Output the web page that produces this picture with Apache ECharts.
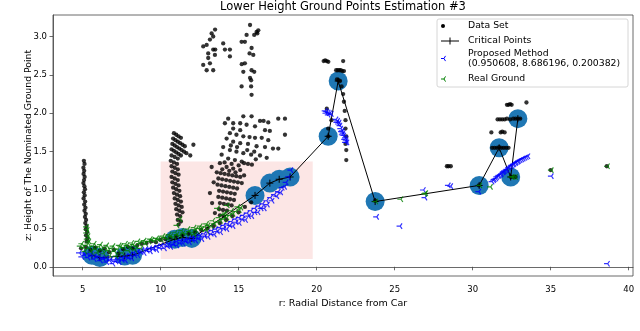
<!DOCTYPE html>
<html>
<head>
<meta charset="utf-8">
<script src="https://cdn.jsdelivr.net/npm/echarts@6/dist/echarts.min.js"></script>
<style>
  html, body { margin: 0; padding: 0; background: #fff; }
  #main { width: 640px; height: 331px; }
</style>
</head>
<body>
<div id="main"></div>
<script>
(function () {
    "use strict";

    // ---- data ----
    var xTicks = [5, 10, 15, 20, 25, 30, 35, 40];
    var yTicks = [0, 0.5, 1.0, 1.5, 2.0, 2.5, 3.0];

    // shaded region [x0, y0, x1, y1]
    var regionBox = [10, 0.1, 19.75, 1.37];

    // critical points (line order)
    var critPts = [
        [5.6, 0.15], [6.1, 0.12], [7.7, 0.14], [8.2, 0.15],
        [10.9, 0.36], [11.4, 0.38], [12.0, 0.37],
        [16.05, 0.93], [17.0, 1.09], [17.6, 1.14], [18.3, 1.17],
        [20.74, 1.70], [21.38, 2.42], [23.75, 0.85],
        [30.42, 1.06], [31.7, 1.55], [32.44, 1.17], [32.9, 1.93]
    ];

    // data set (black dots), in groups
    var colA = [
        [5.08, 1.38], [5.12, 1.34], [5.05, 1.29], [5.1, 1.25], [5.06, 1.21], [5.13, 1.17], [5.09, 1.13],
        [5.05, 1.09], [5.11, 1.05], [5.15, 1.01], [5.08, 0.97], [5.13, 0.93], [5.06, 0.89], [5.16, 0.85],
        [5.1, 0.81], [5.18, 0.77], [5.12, 0.73], [5.2, 0.69], [5.15, 0.65], [5.22, 0.61], [5.17, 0.57],
        [5.25, 0.53], [5.2, 0.49], [5.28, 0.45], [5.22, 0.41], [5.3, 0.37], [5.25, 0.33]
    ];
    var groundBlack = [
        [4.9, 0.24], [5.2, 0.26], [5.5, 0.22], [5.8, 0.25], [6.1, 0.21], [6.4, 0.24], [6.7, 0.19],
        [7.0, 0.22], [7.3, 0.17], [7.6, 0.23], [7.9, 0.26], [8.2, 0.24], [8.5, 0.28], [8.8, 0.3],
        [9.1, 0.31], [9.4, 0.33], [9.7, 0.32], [10.0, 0.35], [10.3, 0.36], [10.6, 0.38], [11.0, 0.4],
        [11.4, 0.41], [11.8, 0.43], [12.2, 0.45], [12.6, 0.48], [13.0, 0.5], [13.4, 0.53], [13.8, 0.57],
        [14.2, 0.61], [14.6, 0.66], [15.0, 0.71], [15.4, 0.78], [15.8, 0.84]
    ];
    var colB = [
        [10.85, 1.74], [11.0, 1.72], [11.15, 1.70], [11.3, 1.68],
        [10.8, 1.67], [10.95, 1.65], [11.1, 1.63], [11.25, 1.61], [11.4, 1.59], [11.55, 1.57],
        [10.75, 1.6], [10.9, 1.58], [11.05, 1.56], [11.2, 1.54], [11.35, 1.52], [11.5, 1.5], [11.65, 1.48],
        [10.7, 1.53], [10.85, 1.51], [11.0, 1.49], [11.15, 1.47], [11.3, 1.45],
        [12.1, 1.59], [11.9, 1.45],
        [10.7, 1.45], [10.9, 1.43], [11.1, 1.41], [10.65, 1.38], [10.85, 1.36], [11.05, 1.34],
        [10.7, 1.31], [10.9, 1.29], [11.1, 1.27], [10.75, 1.24], [10.95, 1.22], [11.15, 1.2],
        [10.7, 1.17], [10.9, 1.15], [11.1, 1.13], [10.75, 1.1], [10.95, 1.08], [11.15, 1.06],
        [10.8, 1.03], [11.0, 1.01], [11.2, 0.99], [10.85, 0.96], [11.05, 0.94], [11.25, 0.92],
        [10.9, 0.89], [11.1, 0.87], [11.3, 0.85], [10.95, 0.82], [11.15, 0.8], [11.35, 0.78],
        [11.0, 0.75], [11.2, 0.73], [11.4, 0.71], [11.05, 0.68], [11.25, 0.66], [11.1, 0.61],
        [11.3, 0.59], [11.15, 0.55]
    ];
    var groupC = [
        [14.33, 1.93], [15.3, 1.96], [15.83, 1.96], [16.37, 1.9], [16.6, 1.9], [16.9, 1.88], [17.54, 1.93],
        [17.97, 1.93], [14.12, 1.87], [14.65, 1.87], [15.1, 1.87], [15.51, 1.85], [16.05, 1.83],
        [14.65, 1.8], [15.1, 1.78], [16.69, 1.78], [17.0, 1.77], [14.44, 1.74], [14.86, 1.72],
        [15.3, 1.7], [15.7, 1.69], [16.05, 1.68], [16.48, 1.68], [16.9, 1.65], [17.97, 1.72],
        [14.23, 1.67], [14.65, 1.63], [15.1, 1.61], [15.6, 1.6], [16.15, 1.57], [16.69, 1.56],
        [17.2, 1.54], [17.54, 1.54], [14.01, 1.56], [14.44, 1.52], [14.86, 1.5], [15.3, 1.48],
        [15.8, 1.46], [16.37, 1.45], [13.91, 1.46], [14.33, 1.41], [14.76, 1.39], [15.2, 1.37],
        [13.8, 1.35], [14.23, 1.3], [14.65, 1.28], [15.1, 1.26], [15.35, 1.35], [15.6, 1.34],
        [15.85, 1.33], [16.1, 1.4], [16.8, 1.42],
        [13.6, 1.23], [13.85, 1.22], [14.1, 1.21], [14.35, 1.2], [14.6, 1.19], [14.85, 1.18], [15.1, 1.17],
        [15.35, 1.19], [13.7, 1.15], [13.95, 1.14], [14.2, 1.13], [14.45, 1.12], [14.7, 1.11],
        [14.95, 1.1], [15.2, 1.09], [13.65, 1.07], [13.9, 1.06], [14.15, 1.05], [14.4, 1.04],
        [14.65, 1.03], [14.9, 1.02], [13.75, 0.99], [14.0, 0.98], [14.25, 0.97], [14.5, 0.96],
        [14.75, 0.95], [13.7, 0.91], [13.95, 0.9], [14.2, 0.89], [14.45, 0.88], [14.7, 0.87],
        [13.8, 0.83], [14.05, 0.82], [14.3, 0.81], [14.55, 0.8], [13.75, 0.75], [14.0, 0.74],
        [14.25, 0.73], [13.8, 0.67], [14.05, 0.66],
        [13.16, 0.96], [13.3, 0.83], [13.48, 0.7], [13.27, 1.3], [13.4, 1.1],
        [14.5, 1.58], [14.9, 1.56], [15.55, 1.52], [16.0, 1.5], [14.1, 1.36], [14.55, 1.34],
        [15.0, 1.32], [13.95, 1.27], [14.4, 1.25], [14.8, 1.23]
    ];
    var groupD = [
        [13.49, 3.09], [13.27, 3.04], [13.37, 3.0], [13.16, 2.96], [12.95, 2.89], [12.73, 2.87],
        [14.01, 2.91], [13.37, 2.83], [13.05, 2.78], [13.5, 2.83], [14.12, 2.83], [14.44, 2.83],
        [14.44, 2.74], [13.48, 2.76], [13.05, 2.72], [12.73, 2.63], [13.16, 2.65], [12.95, 2.56],
        [13.37, 2.56],
        [15.73, 3.15], [16.15, 3.06], [15.51, 3.02], [16.0, 3.02], [15.19, 2.93], [15.4, 2.93],
        [15.83, 2.85], [15.94, 2.76], [15.7, 2.78], [15.4, 2.65], [15.2, 2.64], [15.83, 2.56],
        [15.3, 2.54], [16.0, 2.54], [15.73, 2.46], [15.8, 2.43], [15.19, 2.35], [15.8, 2.35],
        [15.83, 2.24], [16.26, 3.08], [16.2, 3.04]
    ];
    var peakBlack = [
        [20.45, 2.68], [20.55, 2.69], [20.65, 2.68], [20.75, 2.67], [21.7, 2.68],
        [21.25, 2.56], [21.35, 2.56], [21.45, 2.56], [21.55, 2.56], [21.65, 2.55], [21.75, 2.55],
        [21.3, 2.44], [21.4, 2.43], [21.5, 2.42],
        [21.6, 2.35], [21.7, 2.25], [21.75, 2.15], [21.8, 2.03], [21.85, 1.91], [21.85, 1.8],
        [21.9, 1.7], [21.85, 1.6], [21.9, 1.52], [21.9, 1.39],
        [20.65, 2.06], [20.95, 1.91], [20.74, 1.8], [20.75, 1.7]
    ];
    var rightBlack = [
        [28.35, 1.31], [28.45, 1.31], [28.6, 1.31],
        [31.2, 1.75], [31.8, 1.75], [31.9, 1.76], [32.05, 1.75],
        [31.25, 1.55], [31.4, 1.55], [31.55, 1.55], [31.7, 1.56], [31.85, 1.55], [32.0, 1.55],
        [32.15, 1.55], [32.3, 1.55],
        [31.6, 1.92], [31.75, 1.92], [31.9, 1.92], [32.05, 1.92], [32.2, 1.93], [32.4, 1.92],
        [32.6, 1.93], [32.75, 1.93], [32.9, 1.93], [33.05, 1.93],
        [32.2, 2.11], [32.3, 2.11], [32.4, 2.12], [32.5, 2.11], [33.45, 2.14],
        [32.45, 1.17], [32.6, 1.17], [32.75, 1.17],
        [30.4, 1.06], [23.75, 0.86], [38.6, 1.31], [35.0, 1.26]
    ];

    // proposed method (blue)
    var proposedPts = [
        [4.75, 0.18], [5.0, 0.18], [5.25, 0.17], [5.5, 0.17], [5.75, 0.15], [6.0, 0.14], [6.25, 0.12],
        [6.5, 0.11], [6.75, 0.1], [7.0, 0.09], [7.25, 0.1], [7.5, 0.12], [7.75, 0.14], [8.0, 0.16],
        [8.25, 0.18], [8.5, 0.2], [8.75, 0.22], [9.0, 0.23], [9.25, 0.24], [9.5, 0.25], [9.75, 0.27],
        [10.0, 0.28],
        [4.9, 0.13], [5.3, 0.12], [5.7, 0.1], [6.1, 0.08], [6.5, 0.06], [6.9, 0.04], [7.3, 0.06],
        [7.7, 0.08], [8.1, 0.11], [8.5, 0.15], [8.9, 0.18], [9.3, 0.2], [9.7, 0.22],
        [10.25, 0.29], [10.5, 0.3], [10.75, 0.31], [11.0, 0.33], [11.25, 0.34], [11.5, 0.35],
        [11.75, 0.36], [12.0, 0.38], [12.25, 0.39], [12.5, 0.41], [12.75, 0.43], [13.0, 0.45],
        [13.25, 0.47], [13.5, 0.49], [13.75, 0.51], [14.0, 0.54], [14.25, 0.56], [14.5, 0.59],
        [14.75, 0.62], [15.0, 0.64], [15.25, 0.67], [15.5, 0.7], [15.75, 0.73], [16.0, 0.76],
        [16.25, 0.79], [16.5, 0.82], [16.75, 0.86], [17.0, 0.9], [17.25, 0.94], [17.5, 0.98],
        [17.75, 1.03], [18.0, 1.1], [18.15, 1.17], [18.3, 1.26],
        [10.2, 0.24], [10.6, 0.26], [11.0, 0.28], [11.4, 0.3], [11.8, 0.32], [12.2, 0.34],
        [12.6, 0.36], [13.0, 0.39], [13.4, 0.42], [13.8, 0.45], [14.2, 0.49], [14.6, 0.53],
        [15.0, 0.57], [15.4, 0.61], [15.8, 0.66], [16.2, 0.71], [16.6, 0.76],
        [10.4, 0.27], [10.8, 0.29], [11.2, 0.31], [11.6, 0.33], [12.0, 0.35], [12.4, 0.37],
        [12.8, 0.4], [13.2, 0.43], [13.6, 0.46], [14.0, 0.5], [14.4, 0.54], [14.8, 0.58],
        [15.2, 0.62], [15.6, 0.66], [16.0, 0.71], [16.4, 0.76], [16.8, 0.81], [17.1, 0.86],
        [17.4, 0.92], [17.65, 0.97], [17.9, 1.04],
        [5.1, 0.15], [5.5, 0.14], [5.9, 0.12], [6.3, 0.1], [6.7, 0.08], [7.1, 0.07], [7.5, 0.09],
        [7.9, 0.12], [8.3, 0.15], [8.7, 0.19], [9.1, 0.21], [9.5, 0.23], [9.9, 0.25],
        [20.5, 2.03], [20.6, 2.02], [20.7, 2.01], [20.8, 2.0], [20.9, 1.99], [21.2, 1.92],
        [21.3, 1.9], [21.4, 1.88], [21.45, 1.84], [21.5, 1.8], [21.6, 1.77], [21.65, 1.74],
        [21.7, 1.71], [21.8, 1.68], [21.85, 1.65],
        [20.55, 2.0], [20.7, 1.98], [21.25, 1.88], [21.35, 1.86], [21.55, 1.76], [21.6, 1.72],
        [21.75, 1.66], [21.8, 1.62], [21.9, 1.62],
        [23.8, 0.65], [25.3, 0.53], [26.8, 1.0], [26.9, 0.9], [28.4, 1.06], [28.55, 1.05],
        [30.35, 0.98], [31.3, 1.13], [31.45, 1.15], [31.6, 1.18], [31.75, 1.2], [31.9, 1.23],
        [32.0, 1.25], [32.15, 1.27], [32.3, 1.3], [32.45, 1.32], [32.6, 1.34], [32.75, 1.36],
        [32.9, 1.38], [33.1, 1.4], [33.3, 1.42], [33.5, 1.44], [35.0, 1.18], [38.6, 0.04],
        [31.2, 1.11], [31.35, 1.14], [31.5, 1.17], [31.65, 1.19], [31.8, 1.21], [31.95, 1.24],
        [32.1, 1.26], [32.25, 1.29], [32.4, 1.31], [32.55, 1.33], [32.7, 1.35], [32.85, 1.37],
        [33.0, 1.39], [33.2, 1.41], [33.4, 1.43]
    ];

    // real ground (green)
    var groundPts = [
        [5.2, 0.52], [5.25, 0.48], [5.2, 0.44], [5.3, 0.4], [5.25, 0.36], [5.35, 0.33],
        [4.8, 0.27], [5.0, 0.25], [5.2, 0.28], [5.4, 0.24], [5.6, 0.27], [5.8, 0.23], [6.0, 0.26],
        [6.2, 0.22], [6.4, 0.25], [6.6, 0.21], [6.8, 0.24], [7.0, 0.2], [7.2, 0.23], [7.4, 0.27],
        [7.6, 0.25], [7.8, 0.28], [8.0, 0.26], [8.2, 0.29], [8.4, 0.27], [8.6, 0.3], [8.8, 0.32],
        [9.0, 0.3], [9.2, 0.33], [9.4, 0.35], [9.6, 0.34], [9.8, 0.36], [10.0, 0.35],
        [5.1, 0.2], [5.5, 0.19], [5.9, 0.18], [6.3, 0.17], [6.7, 0.15], [7.1, 0.14], [7.5, 0.18],
        [7.9, 0.21], [8.3, 0.22], [8.7, 0.24],
        [10.2, 0.38], [10.4, 0.37], [10.6, 0.4], [10.8, 0.39], [11.0, 0.42], [11.2, 0.41],
        [11.4, 0.44], [11.6, 0.43], [11.8, 0.46], [12.0, 0.45], [12.2, 0.48], [12.4, 0.5],
        [12.6, 0.49], [12.8, 0.52], [13.0, 0.54], [13.2, 0.53], [13.4, 0.56], [13.6, 0.58],
        [13.8, 0.6], [14.0, 0.62], [14.2, 0.64], [14.4, 0.67], [14.6, 0.69], [14.8, 0.72],
        [15.0, 0.74], [15.1, 0.77],
        [11.0, 0.54], [11.2, 0.62], [13.6, 0.76], [14.0, 0.68], [14.23, 0.8], [14.9, 0.78],
        [12.9, 0.47], [12.1, 0.42],
        [4.9, 0.3], [5.3, 0.31], [5.7, 0.3], [6.1, 0.29], [6.5, 0.28], [6.9, 0.27], [7.3, 0.28],
        [7.7, 0.3], [8.1, 0.31], [8.5, 0.33], [8.9, 0.34], [9.3, 0.36], [9.7, 0.37], [10.1, 0.4],
        [10.5, 0.42], [10.9, 0.45], [11.3, 0.47], [11.7, 0.49], [12.1, 0.51], [12.5, 0.53],
        [12.9, 0.56], [13.3, 0.6], [13.7, 0.64], [14.1, 0.7], [14.5, 0.73],
        [23.75, 0.85], [25.35, 0.88], [26.88, 0.95], [26.95, 0.96], [30.42, 1.06], [31.1, 1.04],
        [32.45, 1.17], [32.55, 1.17], [32.7, 1.17], [35.0, 1.26], [38.6, 1.31]
    ];

    var dataSetPts = [].concat(colA, groundBlack, colB, groupC, groupD, peakBlack, rightBlack);

    // ---- chart ----
    var FONT = 'DejaVu Sans';
    var triLeft = 'path://M0,5L5,5M5,5L7.5,0.67M5,5L7.5,9.33';
    var plusSym = 'path://M0,5L10,5M5,0L5,10';
    var spine = '#444';

    var myChart = echarts.init(document.getElementById('main'));

    function legendTri(cx, cy, col) {
        return [
            { type: 'line', shape: { x1: cx, y1: cy, x2: cx - 3, y2: cy }, style: { stroke: col, lineWidth: 1 } },
            { type: 'line', shape: { x1: cx, y1: cy, x2: cx + 1.5, y2: cy - 2.6 }, style: { stroke: col, lineWidth: 1 } },
            { type: 'line', shape: { x1: cx, y1: cy, x2: cx + 1.5, y2: cy + 2.6 }, style: { stroke: col, lineWidth: 1 } }
        ];
    }
    function legendText(x, y, txt) {
        return {
            type: 'text', x: x, y: y,
            style: { text: txt, fontFamily: FONT, fontSize: 9.3, fill: '#000', verticalAlign: 'middle', lineHeight: 9.5 }
        };
    }

    var legendEls = [
        { type: 'rect', shape: { x: 437, y: 19, width: 191, height: 68, r: 2 },
          style: { fill: 'rgba(255,255,255,0.85)', stroke: '#ccc', lineWidth: 0.8 } },
        { type: 'circle', shape: { cx: 443, cy: 26, r: 2 }, style: { fill: '#000' } },
        legendText(468, 26, 'Data Set'),
        { type: 'line', shape: { x1: 441, y1: 41, x2: 459, y2: 41 }, style: { stroke: '#000', lineWidth: 1 } },
        { type: 'line', shape: { x1: 450, y1: 37.5, x2: 450, y2: 44.5 }, style: { stroke: '#000', lineWidth: 1 } },
        legendText(468, 41, 'Critical Points'),
        legendText(468, 58.5, 'Proposed Method\n(0.950608, 8.686196, 0.200382)'),
        legendText(468, 79, 'Real Ground')
    ].concat(legendTri(444, 58.5, 'blue'), legendTri(444, 79, 'green'));

    var option = {
        animation: false,
        backgroundColor: '#fff',
        title: {
            text: 'Lower Height Ground Points Estimation #3',
            left: 343, top: 1, padding: 0, textAlign: 'center',
            textStyle: { fontFamily: FONT, fontSize: 11.5, fontWeight: 'normal', color: '#000' }
        },
        grid: {
            left: 53, right: 7, top: 15, bottom: 55,
            show: true, borderColor: spine, borderWidth: 0.8, backgroundColor: 'transparent'
        },
        xAxis: {
            type: 'value', min: 3.1, max: 40.28,
            name: 'r: Radial Distance from Car', nameLocation: 'middle', nameGap: 23,
            nameMoveOverlap: false,
            nameTextStyle: { fontFamily: FONT, fontSize: 9.5, color: '#000' },
            axisLine: { show: true, lineStyle: { color: spine, width: 0.8 } },
            axisTick: { show: true, length: 3.5, lineStyle: { color: spine, width: 0.8 }, customValues: xTicks },
            axisLabel: { fontFamily: FONT, fontSize: 8.5, color: '#000', margin: 9, customValues: xTicks },
            splitLine: { show: false }
        },
        yAxis: {
            type: 'value', min: -0.12, max: 3.28,
            name: 'z: Height of The Nominated Ground Point', nameLocation: 'middle', nameGap: 20,
            nameMoveOverlap: false,
            nameTextStyle: { fontFamily: FONT, fontSize: 9.3, color: '#000' },
            axisLine: { show: true, lineStyle: { color: spine, width: 0.8 } },
            axisTick: { show: true, length: 3.5, lineStyle: { color: spine, width: 0.8 }, customValues: yTicks },
            axisLabel: {
                fontFamily: FONT, fontSize: 8.5, color: '#000', margin: 6, customValues: yTicks,
                formatter: function (v) { return v.toFixed(1); }
            },
            splitLine: { show: false }
        },
        graphic: { elements: legendEls },
        series: [
            {
                name: 'region', type: 'scatter', data: [], z: 0, silent: true,
                markArea: {
                    silent: true,
                    itemStyle: { color: 'rgba(235,90,80,0.15)' },
                    data: [[{ coord: [regionBox[0], regionBox[1]] }, { coord: [regionBox[2], regionBox[3]] }]]
                }
            },
            {
                name: 'circles', type: 'scatter', data: critPts, z: 1,
                symbol: 'circle', symbolSize: 19,
                itemStyle: { color: '#1f77b4', opacity: 1 }
            },
            {
                name: 'Data Set', type: 'scatter', data: dataSetPts, z: 2,
                symbol: 'circle', symbolSize: 4.3,
                itemStyle: { color: '#000' }
            },
            {
                name: 'Critical Points', type: 'line', data: critPts, z: 3,
                symbol: plusSym, symbolSize: 7, showSymbol: true,
                lineStyle: { color: '#000', width: 1 },
                itemStyle: { color: '#000', borderColor: '#000', borderWidth: 1 }
            },
            {
                name: 'Proposed Method', type: 'scatter', data: proposedPts, z: 4,
                symbol: triLeft, symbolSize: 5.5,
                itemStyle: { color: 'blue', borderColor: 'blue', borderWidth: 1.2 }
            },
            {
                name: 'Real Ground', type: 'scatter', data: groundPts, z: 5,
                symbol: triLeft, symbolSize: 5.5,
                itemStyle: { color: 'green', borderColor: 'green', borderWidth: 1.2 }
            }
        ]
    };

    myChart.setOption(option);
})();
</script>
</body>
</html>
